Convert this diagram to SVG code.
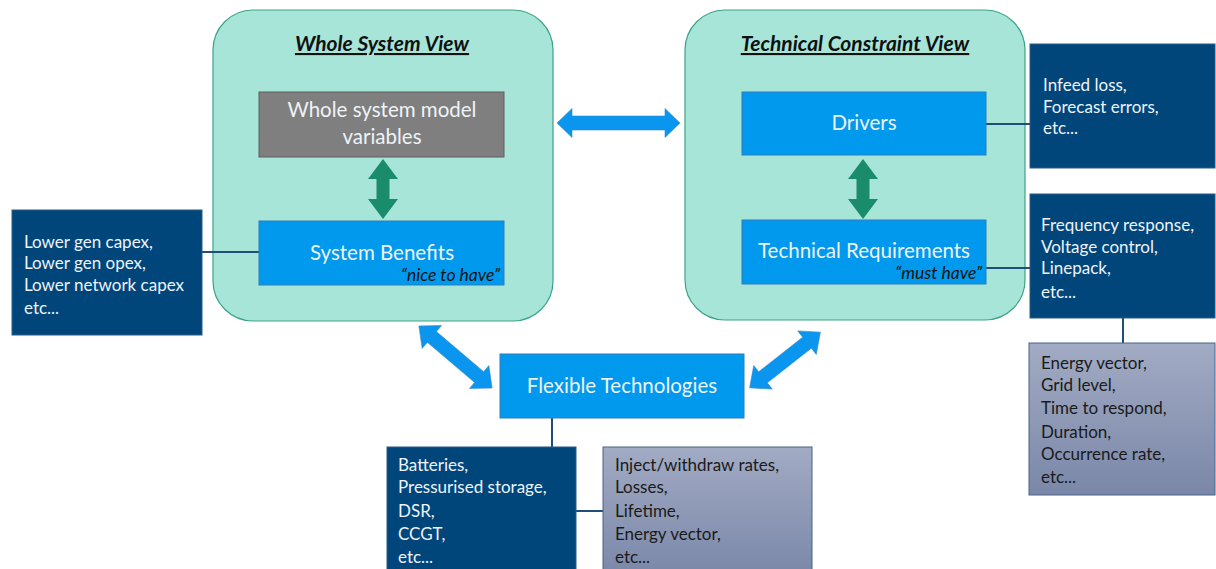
<svg xmlns="http://www.w3.org/2000/svg" width="1216" height="569" viewBox="0 0 1216 569">
<defs>
<linearGradient id="gg" x1="0" y1="0" x2="0" y2="1">
<stop offset="0" stop-color="#a2abc4"/>
<stop offset="1" stop-color="#7a87a8"/>
</linearGradient>
<style>
.panel{fill:#a7e5d9;stroke:#3aa387;stroke-width:1.2}
.blue{fill:#0099ee;stroke:#2e7fb8;stroke-width:1}
.gray{fill:#7f7f7f;stroke:#5f5f5f;stroke-width:1}
.dark{fill:#00467b;stroke:#2b5d85;stroke-width:1}
.lite{fill:url(#gg);stroke:#4a6287;stroke-width:1}
.t{font-family:Lato,"Open Sans",sans-serif}
.big{font-size:20.5px;fill:#eef3f8;text-anchor:middle}
.title{font-size:21px;font-weight:bold;font-style:italic;fill:#111;text-anchor:middle;text-decoration:underline}
.note{font-size:17.5px;font-style:italic;fill:#111;text-anchor:end}
.w{font-size:17px;fill:#eef3f8}
.k{font-size:17px;fill:#1a1a1a}
.ln{stroke:#1f4e79;stroke-width:2;fill:none}
.ga{fill:#1a8c6c}
.ba{fill:#0a95ee;stroke:#3a8ccc;stroke-width:0.6}
</style>
</defs>

<g id="whole-system-view">
<rect class="panel" x="213" y="10" width="340" height="311" rx="40"/>
<text class="t title" x="382" y="51">Whole System View</text>
</g>
<g id="technical-constraint-view">
<rect class="panel" x="685" y="10" width="340" height="310" rx="40"/>
<text class="t title" x="855" y="51">Technical Constraint View</text>
</g>

<g id="connectors">
<line class="ln" x1="202" y1="252" x2="259" y2="252"/>
<line class="ln" x1="986" y1="124" x2="1030" y2="124"/>
<line class="ln" x1="986" y1="268" x2="1030" y2="268"/>
<line class="ln" x1="1123" y1="318" x2="1123" y2="343"/>
<line class="ln" x1="552" y1="418" x2="552" y2="447"/>
<line class="ln" x1="576" y1="511" x2="603" y2="511"/>
<path class="ga" d="M383,159 L398,179 L389.5,179 L389.5,199 L398,199 L383,219 L368,199 L376.5,199 L376.5,179 L368,179 Z"/>
<path class="ga" d="M863,159 L878,179 L869.5,179 L869.5,199 L878,199 L863,219 L848,199 L856.5,199 L856.5,179 L848,179 Z"/>
<path class="ba" d="M557,123 L572,108.5 L572,116 L665,116 L665,108.5 L680,123 L665,137.5 L665,130 L572,130 L572,137.5 Z"/>
<path class="ba" transform="translate(455.5,357) rotate(40.3)" d="M-48,0 L-31,-15 L-31,-7 L31,-7 L31,-15 L48,0 L31,15 L31,7 L-31,7 L-31,15 Z"/>
<path class="ba" transform="translate(785,360) rotate(-38.2)" d="M-45,0 L-28,-15 L-28,-7 L28,-7 L28,-15 L45,0 L28,15 L28,7 L-28,7 L-28,15 Z"/>
</g>

<g id="model-variables">
<rect class="gray" x="259" y="92" width="245" height="65"/>
<text class="t big" x="382" y="117">Whole system model</text>
<text class="t big" x="382" y="144">variables</text>
</g>
<g id="system-benefits">
<rect class="blue" x="259" y="221" width="245" height="64"/>
<text class="t big" x="382" y="260">System Benefits</text>
<text class="t note" x="500" y="281">“nice to have”</text>
</g>
<g id="drivers">
<rect class="blue" x="742" y="92" width="244" height="63"/>
<text class="t big" x="864" y="130">Drivers</text>
</g>
<g id="technical-requirements">
<rect class="blue" x="742" y="220" width="244" height="64"/>
<text class="t big" x="864" y="258">Technical Requirements</text>
<text class="t note" x="982" y="279">“must have”</text>
</g>
<g id="flexible-technologies">
<rect class="blue" x="500" y="354" width="244" height="64"/>
<text class="t big" x="622" y="393">Flexible Technologies</text>
</g>

<g id="benefits-list">
<rect class="dark" x="12" y="210" width="190" height="125"/>
<text class="t w" x="24" y="248">Lower gen capex,</text>
<text class="t w" x="24" y="269">Lower gen opex,</text>
<text class="t w" x="24" y="291">Lower network capex</text>
<text class="t w" x="24" y="314">etc...</text>
</g>
<g id="drivers-list">
<rect class="dark" x="1030" y="44" width="185" height="124"/>
<text class="t w" x="1043" y="91">Infeed loss,</text>
<text class="t w" x="1043" y="113">Forecast errors,</text>
<text class="t w" x="1043" y="134">etc...</text>
</g>
<g id="requirements-list">
<rect class="dark" x="1030" y="194" width="185" height="124"/>
<text class="t w" x="1041" y="231">Frequency response,</text>
<text class="t w" x="1041" y="253">Voltage control,</text>
<text class="t w" x="1041" y="274">Linepack,</text>
<text class="t w" x="1041" y="298">etc...</text>
</g>
<g id="requirement-attributes">
<rect class="lite" x="1029" y="343" width="186" height="152"/>
<text class="t k" x="1041" y="369">Energy vector,</text>
<text class="t k" x="1041" y="391">Grid level,</text>
<text class="t k" x="1041" y="414">Time to respond,</text>
<text class="t k" x="1041" y="438">Duration,</text>
<text class="t k" x="1041" y="460">Occurrence rate,</text>
<text class="t k" x="1041" y="483">etc...</text>
</g>
<g id="technologies-list">
<rect class="dark" x="387" y="447" width="189" height="130"/>
<text class="t w" x="398" y="471">Batteries,</text>
<text class="t w" x="398" y="493">Pressurised storage,</text>
<text class="t w" x="398" y="517">DSR,</text>
<text class="t w" x="398" y="540">CCGT,</text>
<text class="t w" x="398" y="563">etc...</text>
</g>
<g id="technology-attributes">
<rect class="lite" x="603" y="447" width="209" height="130"/>
<text class="t k" x="615" y="471">Inject/withdraw rates,</text>
<text class="t k" x="615" y="493">Losses,</text>
<text class="t k" x="615" y="517">Lifetime,</text>
<text class="t k" x="615" y="540">Energy vector,</text>
<text class="t k" x="615" y="563">etc...</text>
</g>
</svg>
